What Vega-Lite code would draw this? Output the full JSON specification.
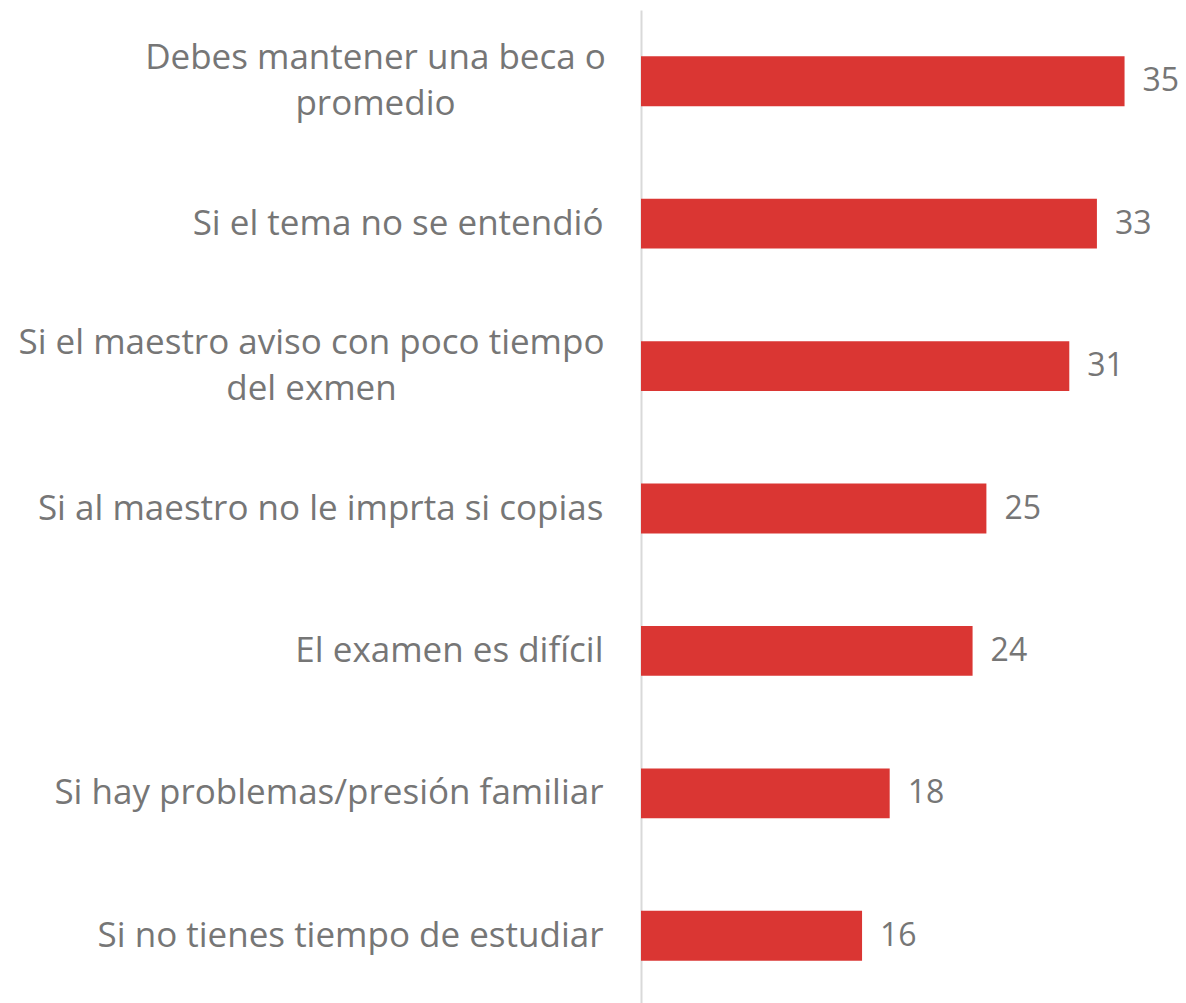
{
  "$schema": "https://vega.github.io/schema/vega-lite/v6.json",
  "autosize": {"type": "none"},
  "padding": {"left": 641, "top": 10, "right": 20, "bottom": 0},
  "width": 525,
  "height": 997,
  "background": "white",
  "config": {"view": {"stroke": null}, "font": "Open Sans"},
  "data": {"values": [
    {"razon": "Debes mantener una beca o promedio", "valor": 35},
    {"razon": "Si el tema no se entendió", "valor": 33},
    {"razon": "Si el maestro aviso con poco tiempo del exmen", "valor": 31},
    {"razon": "Si al maestro no le imprta si copias", "valor": 25},
    {"razon": "El examen es difícil", "valor": 24},
    {"razon": "Si hay problemas/presión familiar", "valor": 18},
    {"razon": "Si no tienes tiempo de estudiar", "valor": 16}
  ]},
  "encoding": {
    "y": {
      "field": "razon", "type": "nominal", "sort": null,
      "scale": {"paddingInner": 0.65, "paddingOuter": 0.325},
      "axis": {
        "title": null, "ticks": false, "domainColor": "#D9D9D9", "domainWidth": 2,
        "labelFontSize": 35, "labelColor": "#767676", "labelFont": "Open Sans",
        "labelLimit": 700, "labelLineHeight": 46,
        "labelAlign": {"condition": {"test": "datum.value == 'Debes mantener una beca o promedio' || datum.value == 'Si el maestro aviso con poco tiempo del exmen'", "value": "center"}, "value": "right"},
        "labelOffset": {"condition": {"test": "datum.value == 'Debes mantener una beca o promedio' || datum.value == 'Si el maestro aviso con poco tiempo del exmen'", "value": -23}, "value": 0},
        "labelPadding": {"condition": [
          {"test": "datum.value == 'Debes mantener una beca o promedio'", "value": 266},
          {"test": "datum.value == 'Si el maestro aviso con poco tiempo del exmen'", "value": 330}
        ], "value": 38},
        "labelExpr": "datum.value == 'Debes mantener una beca o promedio' ? ['Debes mantener una beca o', 'promedio'] : datum.value == 'Si el maestro aviso con poco tiempo del exmen' ? ['Si el maestro aviso con poco tiempo', 'del exmen'] : datum.label"
      }
    },
    "x": {"field": "valor", "type": "quantitative", "scale": {"domain": [0, 38]}, "axis": null}
  },
  "layer": [
    {"mark": {"type": "bar", "color": "#DA3633"}},
    {"mark": {"type": "text", "align": "left", "baseline": "middle", "dx": 18, "fontSize": 32, "color": "#767676", "font": "Open Sans"},
     "encoding": {"text": {"field": "valor", "type": "quantitative"}}}
  ]
}
